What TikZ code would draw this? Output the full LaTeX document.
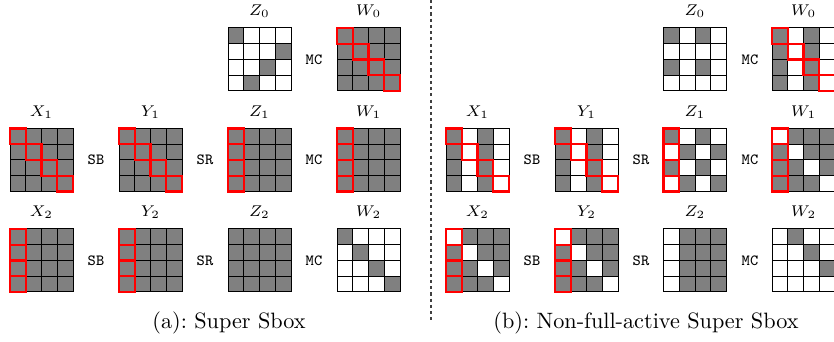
\documentclass[tikz,border=0pt]{standalone}
\tikzset{
  cellgray/.style={fill=gray},
  gridline/.style={line width=0.45pt, draw=black},
  redbox/.style={draw=red, line width=1.1pt},
  oplabel/.style={font=\ttfamily\scriptsize, inner sep=0pt},
  namelabel/.style={font=\scriptsize, inner sep=0pt},
  captiontext/.style={font=\normalsize, inner sep=0pt},
  dashline/.style={draw=black!75, line width=0.5pt, dash pattern=on 1.4pt off 1.4pt},
}
\newcommand\graycells[3]{\foreach \rr/\cc in {#3} {\fill[cellgray] ({#1+\cc*15.75},{#2+\rr*15.75}) rectangle ++(15.75,15.75);}}
\newcommand\allgray[2]{\fill[cellgray] (#1,#2) rectangle ++(63,63);}
\newcommand\gridlines[2]{\foreach \k in {1,2,3} {\draw[gridline] ({#1+\k*15.75},#2) -- ++(0,63); \draw[gridline] (#1,{#2+\k*15.75}) -- ++(63,0);} \draw[gridline] (#1,#2) rectangle ++(63,63);}
\newcommand\redcells[3]{\foreach \rr/\cc in {#3} {\draw[redbox] ({#1+\cc*15.75},{#2+\rr*15.75}) rectangle ++(15.75,15.75);}}
\begin{document}
\begin{tikzpicture}[x=0.45pt,y=-0.45pt]
\useasboundingbox (0,0) rectangle (834,342);
\clip (0,0) rectangle (834,342);
% ================= panel (a) =================
% row 0
\graycells{228}{28}{0/0,1/3,2/2,3/1}\gridlines{228}{28}
\allgray{337}{28}\gridlines{337}{28}\redcells{337}{28}{0/0,1/1,2/2,3/3}
% row 1
\allgray{10}{128.5}\gridlines{10}{128.5}\redcells{10}{128.5}{0/0,1/1,2/2,3/3}
\allgray{119}{128.5}\gridlines{119}{128.5}\redcells{119}{128.5}{0/0,1/1,2/2,3/3}
\allgray{228}{128.5}\gridlines{228}{128.5}\redcells{228}{128.5}{0/0,1/0,2/0,3/0}
\allgray{337}{128.5}\gridlines{337}{128.5}\redcells{337}{128.5}{0/0,1/0,2/0,3/0}
% row 2
\allgray{10}{229}\gridlines{10}{229}\redcells{10}{229}{0/0,1/0,2/0,3/0}
\allgray{119}{229}\gridlines{119}{229}\redcells{119}{229}{0/0,1/0,2/0,3/0}
\allgray{228}{229}\gridlines{228}{229}
\graycells{337}{229}{0/0,1/1,2/2,3/3}\gridlines{337}{229}
% labels (a)
\node[namelabel] (aZ0) at (259.5,11.5) {$Z_0$};
\node[namelabel] (aW0) at (368.5,11.5) {$W_0$};
\node[namelabel] (aX1) at (41.5,112) {$X_1$};
\node[namelabel] (aY1) at (150.5,112) {$Y_1$};
\node[namelabel] (aZ1) at (259.5,112) {$Z_1$};
\node[namelabel] (aW1) at (368.5,112) {$W_1$};
\node[namelabel] (aX2) at (41.5,212.5) {$X_2$};
\node[namelabel] (aY2) at (150.5,212.5) {$Y_2$};
\node[namelabel] (aZ2) at (259.5,212.5) {$Z_2$};
\node[namelabel] (aW2) at (368.5,212.5) {$W_2$};
\node[oplabel] (aMC0) at (314,59.5) {MC};
\node[oplabel] (aSB1) at (96,160) {SB};
\node[oplabel] (aSR1) at (205,160) {SR};
\node[oplabel] (aMC1) at (314,160) {MC};
\node[oplabel] (aSB2) at (96,260.5) {SB};
\node[oplabel] (aSR2) at (205,260.5) {SR};
\node[oplabel] (aMC2) at (314,260.5) {MC};
\node[captiontext] (capa) at (229,323) {(a):~Super Sbox};
% ================= separator =================
\coordinate (dtop) at (431,0);
\coordinate (dbot) at (431,322);
\draw[dashline] (dtop) -- (dbot);
% ================= panel (b) =================
% row 0
\graycells{663.5}{28}{0/0,0/2,2/0,2/2}\gridlines{663.5}{28}
\graycells{772}{28}{0/0,1/0,2/0,3/0,0/2,1/2,2/2,3/2}\gridlines{772}{28}\redcells{772}{28}{0/0,1/1,2/2,3/3}
% row 1
\graycells{446}{128.5}{0/0,1/0,2/0,3/0,0/2,1/2,2/2,3/2}\gridlines{446}{128.5}\redcells{446}{128.5}{0/0,1/1,2/2,3/3}
\graycells{555}{128.5}{0/0,1/0,2/0,3/0,0/2,1/2,2/2,3/2}\gridlines{555}{128.5}\redcells{555}{128.5}{0/0,1/1,2/2,3/3}
\graycells{663.5}{128.5}{0/0,0/2,1/1,1/3,2/0,2/2,3/1,3/3}\gridlines{663.5}{128.5}\redcells{663.5}{128.5}{0/0,1/0,2/0,3/0}
\graycells{772}{128.5}{0/1,0/2,0/3,1/0,1/2,1/3,2/0,2/1,2/3,3/0,3/1,3/2}\gridlines{772}{128.5}\redcells{772}{128.5}{0/0,1/0,2/0,3/0}
% row 2
\graycells{446}{229}{0/1,0/2,0/3,1/0,1/2,1/3,2/0,2/1,2/3,3/0,3/1,3/2}\gridlines{446}{229}\redcells{446}{229}{0/0,1/0,2/0,3/0}
\graycells{555}{229}{0/1,0/2,0/3,1/0,1/2,1/3,2/0,2/1,2/3,3/0,3/1,3/2}\gridlines{555}{229}\redcells{555}{229}{0/0,1/0,2/0,3/0}
\graycells{663.5}{229}{0/1,0/2,0/3,1/1,1/2,1/3,2/1,2/2,2/3,3/1,3/2,3/3}\gridlines{663.5}{229}
\graycells{772}{229}{0/1,1/2,2/3}\gridlines{772}{229}
% labels (b)
\node[namelabel] (bZ0) at (695,11.5) {$Z_0$};
\node[namelabel] (bW0) at (803.5,11.5) {$W_0$};
\node[namelabel] (bX1) at (477.5,112) {$X_1$};
\node[namelabel] (bY1) at (586.5,112) {$Y_1$};
\node[namelabel] (bZ1) at (695,112) {$Z_1$};
\node[namelabel] (bW1) at (803.5,112) {$W_1$};
\node[namelabel] (bX2) at (477.5,212.5) {$X_2$};
\node[namelabel] (bY2) at (586.5,212.5) {$Y_2$};
\node[namelabel] (bZ2) at (695,212.5) {$Z_2$};
\node[namelabel] (bW2) at (803.5,212.5) {$W_2$};
\node[oplabel] (bMC0) at (750,59.5) {MC};
\node[oplabel] (bSB1) at (532,160) {SB};
\node[oplabel] (bSR1) at (641,160) {SR};
\node[oplabel] (bMC1) at (750,160) {MC};
\node[oplabel] (bSB2) at (532,260.5) {SB};
\node[oplabel] (bSR2) at (641,260.5) {SR};
\node[oplabel] (bMC2) at (750,260.5) {MC};
\node[captiontext] (capb) at (646,323) {(b):~Non-full-active Super Sbox};
\end{tikzpicture}
\end{document}
